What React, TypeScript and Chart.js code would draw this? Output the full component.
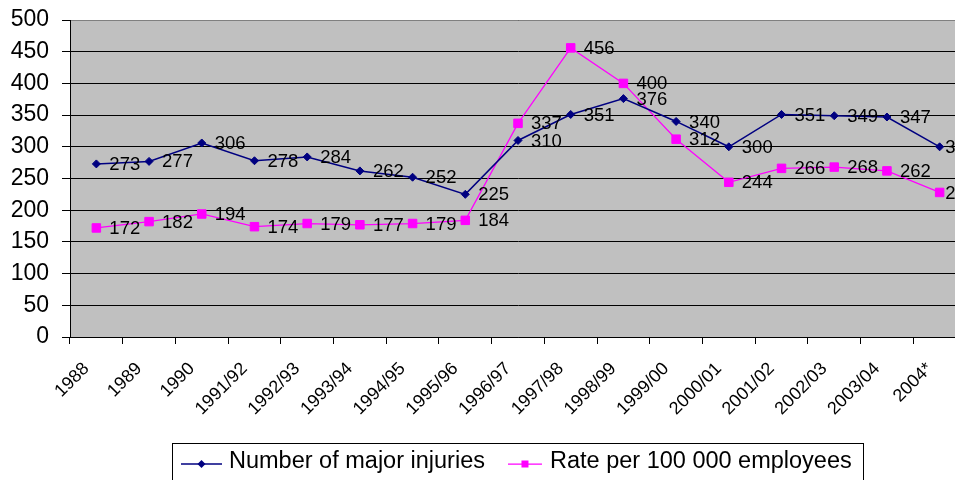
import React, { useEffect, useRef } from "react";
import { Chart, registerables } from "chart.js";

Chart.register(...registerables);

// Reporting years
const categories = [
  "1988", "1989", "1990", "1991/92", "1992/93", "1993/94", "1994/95", "1995/96",
  "1996/97", "1997/98", "1998/99", "1999/00", "2000/01", "2001/02", "2002/03",
  "2003/04", "2004*",
];

// Number of major injuries per year
const majorInjuries = [273, 277, 306, 278, 284, 262, 252, 225, 310, 351, 376, 340, 300, 351, 349, 347, 300];

// Rate per 100 000 employees
const ratePer100k = [172, 182, 194, 174, 179, 177, 179, 184, 337, 456, 400, 312, 244, 266, 268, 262, 228];

const seriesNames = ["Number of major injuries", "Rate per 100 000 employees"];

const yMin = 0;
const yMax = 500;
const yStep = 50;

const FONT = '"Liberation Sans", Arial, sans-serif';
const NAVY = "#000080";
const MAGENTA = "#FF00FF";

const CANVAS_W = 1000;
const CANVAS_H = 480;

// Grey plot background and its border
const plotBackground = {
  id: "plotBackground",
  beforeDraw(chart: any) {
    const { ctx, chartArea } = chart;
    ctx.save();
    ctx.fillStyle = "#C0C0C0";
    ctx.fillRect(chartArea.left, chartArea.top, chartArea.right - chartArea.left, chartArea.bottom - chartArea.top);
    ctx.restore();
  },
  beforeDatasetsDraw(chart: any) {
    const { ctx, chartArea } = chart;
    ctx.save();
    ctx.strokeStyle = "#808080";
    ctx.lineWidth = 1;
    ctx.beginPath();
    ctx.moveTo(chartArea.left + 1, Math.round(chartArea.top) + 0.5);
    ctx.lineTo(chartArea.right, Math.round(chartArea.top) + 0.5);
    ctx.moveTo(Math.round(chartArea.right) - 0.5, chartArea.top);
    ctx.lineTo(Math.round(chartArea.right) - 0.5, chartArea.bottom);
    ctx.stroke();
    ctx.restore();
  },
};

// Slanted category labels under the x axis
const slantedLabels = {
  id: "slantedLabels",
  afterDraw(chart: any) {
    const { ctx } = chart;
    const xScale = chart.scales.x;
    ctx.save();
    ctx.font = `18px ${FONT}`;
    ctx.fillStyle = "#000000";
    ctx.textAlign = "right";
    ctx.textBaseline = "middle";
    categories.forEach((label, i) => {
      const px = xScale.getPixelForTick(i);
      ctx.save();
      ctx.translate(px - 10, xScale.top + 29);
      ctx.rotate(-Math.PI / 4);
      ctx.fillText(label, 0, 0);
      ctx.restore();
    });
    ctx.restore();
  },
};

// Value labels to the right of each point
const valueLabels = {
  id: "valueLabels",
  afterDatasetsDraw(chart: any) {
    const { ctx, chartArea } = chart;
    ctx.save();
    ctx.font = `18.5px ${FONT}`;
    ctx.fillStyle = "#000000";
    ctx.textAlign = "left";
    ctx.textBaseline = "middle";
    const limit = chartArea.right + 10;
    chart.data.datasets.forEach((ds: any, di: number) => {
      const meta = chart.getDatasetMeta(di);
      meta.data.forEach((pt: any, i: number) => {
        const text = String(ds.data[i]);
        const w = ctx.measureText(text).width;
        const x = Math.min(pt.x + 13, limit - w);
        ctx.fillText(text, x, pt.y + 1);
      });
    });
    ctx.restore();
  },
};

// Boxed legend below the axis
const boxedLegend = {
  id: "boxedLegend",
  afterDraw(chart: any) {
    const { ctx } = chart;
    ctx.save();
    ctx.font = `23.5px ${FONT}`;
    const boxLeft = 172.5;
    const boxTop = 443.5;
    const lineY = 464;
    const textY = 468;
    const w1 = ctx.measureText(seriesNames[0]).width;
    const w2 = ctx.measureText(seriesNames[1]).width;

    const l1 = 181;
    const t1 = 229;
    const l2 = t1 + w1 + 23;
    const t2 = l2 + 42;
    const boxRight = Math.round(t2 + w2 + 11) + 0.5;

    ctx.strokeStyle = "#000000";
    ctx.lineWidth = 1;
    ctx.strokeRect(boxLeft, boxTop, boxRight - boxLeft, 60);

    // series 1 symbol
    ctx.strokeStyle = NAVY;
    ctx.lineWidth = 1.5;
    ctx.beginPath();
    ctx.moveTo(l1, lineY);
    ctx.lineTo(l1 + 41, lineY);
    ctx.stroke();
    const cx1 = l1 + 20.5;
    ctx.fillStyle = NAVY;
    ctx.beginPath();
    ctx.moveTo(cx1 - 4, lineY);
    ctx.lineTo(cx1, lineY - 4);
    ctx.lineTo(cx1 + 4, lineY);
    ctx.lineTo(cx1, lineY + 4);
    ctx.closePath();
    ctx.fill();

    // series 2 symbol
    ctx.strokeStyle = MAGENTA;
    ctx.lineWidth = 1.25;
    ctx.beginPath();
    ctx.moveTo(l2, lineY);
    ctx.lineTo(l2 + 34, lineY);
    ctx.stroke();
    const cx2 = l2 + 17;
    ctx.fillStyle = MAGENTA;
    ctx.fillRect(cx2 - 3.5, lineY - 3.5, 7, 7);

    ctx.fillStyle = "#000000";
    ctx.textAlign = "left";
    ctx.textBaseline = "alphabetic";
    ctx.fillText(seriesNames[0], t1, textY);
    ctx.fillText(seriesNames[1], t2, textY);
    ctx.restore();
  },
};

export default function App() {
  const canvasRef = useRef<HTMLCanvasElement | null>(null);

  useEffect(() => {
    if (!canvasRef.current) return;
    const chart = new Chart(canvasRef.current, {
      type: "line",
      data: {
        labels: categories,
        datasets: [
          {
            label: seriesNames[0],
            data: majorInjuries,
            borderColor: NAVY,
            backgroundColor: NAVY,
            borderWidth: 1.5,
            pointStyle: "rectRot",
            pointRadius: 4,
            pointBorderWidth: 1,
            pointBackgroundColor: NAVY,
            pointBorderColor: NAVY,
            tension: 0,
          },
          {
            label: seriesNames[1],
            data: ratePer100k,
            borderColor: MAGENTA,
            backgroundColor: MAGENTA,
            borderWidth: 1.25,
            pointStyle: "rect",
            pointRadius: 6,
            pointBorderWidth: 1,
            pointBackgroundColor: MAGENTA,
            pointBorderColor: MAGENTA,
            tension: 0,
          },
        ],
      },
      options: {
        responsive: false,
        animation: false,
        devicePixelRatio: 1,
        events: [],
        layout: { padding: { left: 0, right: 34, top: 20, bottom: 0 } },
        plugins: {
          legend: { display: false },
          tooltip: { enabled: false },
        },
        scales: {
          x: {
            type: "category",
            offset: true,
            grid: {
              offset: true,
              drawOnChartArea: false,
              drawTicks: true,
              tickLength: 7,
              color: "#000000",
              lineWidth: 1,
            },
            border: { display: true, color: "#000000", width: 1 },
            ticks: { display: false, autoSkip: false },
            afterFit(scale: any) {
              scale.height = CANVAS_H - 337;
              scale.paddingLeft = 0;
              scale.paddingRight = 0;
            },
          },
          y: {
            min: yMin,
            max: yMax,
            grid: {
              color: "#000000",
              lineWidth: 1,
              tickLength: 8,
              drawTicks: true,
            },
            border: { display: true, color: "#000000", width: 1 },
            ticks: {
              stepSize: yStep,
              padding: 13,
              color: "#000000",
              font: { family: FONT, size: 23 },
            },
            afterFit(scale: any) {
              scale.width = 70;
              scale.paddingTop = 0;
              scale.paddingBottom = 0;
            },
          },
        },
      },
      plugins: [plotBackground, valueLabels, slantedLabels, boxedLegend],
    } as any);
    return () => chart.destroy();
  }, []);

  return (
    <div
      style={{
        position: "fixed",
        left: 0,
        top: 0,
        width: 955,
        height: 480,
        overflow: "hidden",
        background: "#ffffff",
      }}
    >
      <canvas
        ref={canvasRef}
        width={CANVAS_W}
        height={CANVAS_H}
        style={{ display: "block", width: CANVAS_W, height: CANVAS_H }}
      />
    </div>
  );
}
